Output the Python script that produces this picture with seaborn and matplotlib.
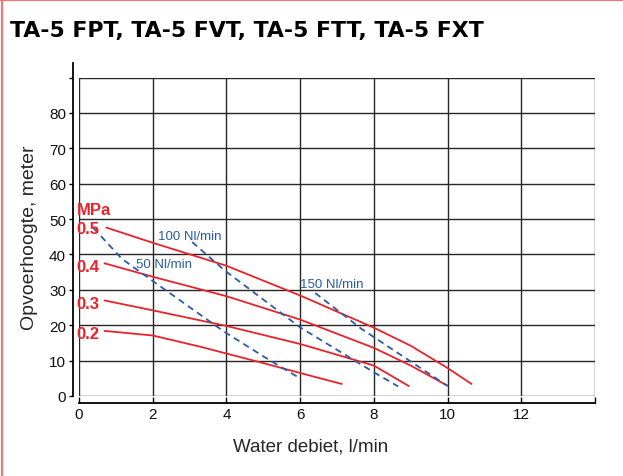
import matplotlib
matplotlib.use("Agg")
import matplotlib.pyplot as plt
from matplotlib.lines import Line2D
import seaborn as sns
import pandas as pd

# ---- data ----
p05_x = [0.74, 2.0, 4.0, 6.0, 8.0, 9.0, 10.0, 10.65]
p05_y = [47.6, 43.3, 36.8, 28.4, 19.3, 14.2, 7.9, 3.4]
p04_x = [0.69, 2.0, 4.0, 6.0, 8.0, 9.0, 10.0]
p04_y = [37.5, 33.7, 28.2, 21.6, 13.6, 8.6, 2.9]
p03_x = [0.69, 2.0, 4.0, 6.0, 8.0, 8.95]
p03_y = [27.0, 24.2, 19.8, 14.7, 8.6, 2.8]
p02_x = [0.69, 2.0, 3.3, 4.0, 5.0, 6.0, 7.13]
p02_y = [18.4, 17.1, 13.9, 12.0, 9.3, 6.5, 3.4]

a50_x = [0.39, 1.16, 2.0, 3.95, 5.11, 5.95]
a50_y = [47.5, 38.8, 32.5, 18.1, 10.5, 5.3]
a100_x = [3.07, 3.95, 6.0, 8.0, 8.66]
a100_y = [43.5, 35.5, 19.4, 6.7, 2.7]
a150_x = [6.41, 7.66, 9.99]
a150_y = [29.1, 19.0, 2.9]

pressure_labels = ["0.5", "0.4", "0.3", "0.2"]
pressure_label_y = [46.1, 35.2, 24.9, 16.5]
air_labels = ["50 Nl/min", "100 Nl/min", "150 Nl/min"]
air_label_x = [1.54, 2.14, 5.99]
air_label_y = [36.4, 44.4, 30.7]

x_ticks = [0, 2, 4, 6, 8, 10, 12, 14]
x_ticklabels = ["0", "2", "4", "6", "8", "10", "12", ""]
y_ticks = [0, 10, 20, 30, 40, 50, 60, 70, 80, 90]
y_ticklabels = ["0", "10", "20", "30", "40", "50", "60", "70", "80", ""]

title = "TA-5 FPT, TA-5 FVT, TA-5 FTT, TA-5 FXT"
xlabel = "Water debiet, l/min"
ylabel = "Opvoerhoogte, meter"

RED = "#e8232b"
BLUE = "#2a5ba6"

sns.set_theme(style="white")
plt.rcParams["font.family"] = ["Liberation Sans", "DejaVu Sans"]

fig = plt.figure(figsize=(6.23, 4.77), dpi=100)
ax = fig.add_axes([79 / 623, 80 / 477, 516 / 623, 318.5 / 477])

for xs, ys in [(p05_x, p05_y), (p04_x, p04_y), (p03_x, p03_y), (p02_x, p02_y)]:
    df = pd.DataFrame({"x": xs, "y": ys})
    sns.lineplot(data=df, x="x", y="y", sort=False, color=RED, lw=1.3, ax=ax)

for xs, ys in [(a50_x, a50_y), (a100_x, a100_y), (a150_x, a150_y)]:
    df = pd.DataFrame({"x": xs, "y": ys})
    sns.lineplot(data=df, x="x", y="y", sort=False, color=BLUE, lw=1.3,
                 linestyle=(0, (3.6, 2.6)), ax=ax)

ax.set_xlim(0, 14)
ax.set_ylim(0, 90)
ax.set_xticks(x_ticks)
ax.set_xticklabels(x_ticklabels, fontsize=11)
ax.set_yticks(y_ticks)
ax.set_yticklabels(y_ticklabels, fontsize=11)
ax.set_xlabel(xlabel, fontsize=13.5, labelpad=9)
ax.xaxis.set_label_coords((311 - 79) / 516, -0.13)
ax.set_ylabel(ylabel, fontsize=14, labelpad=8)

ax.grid(True, color="#262626", lw=1.0)
ax.xaxis.get_gridlines()[0].set_visible(False)
ax.yaxis.get_gridlines()[0].set_visible(False)
ax.set_axisbelow(True)

for s in ["top", "right"]:
    ax.spines[s].set_visible(False)
ax.spines["left"].set_position(("outward", 4.3))
ax.spines["bottom"].set_position(("outward", 4.8))
for s in ["left", "bottom"]:
    ax.spines[s].set_color("black")
    ax.spines[s].set_linewidth(1.3)
ax.spines["left"].set_bounds(0, 94)

ax.tick_params(axis="y", direction="out", length=3, width=1, color="black",
               left=True, pad=2, labelcolor="#111111")
ax.tick_params(axis="x", direction="in", length=4, width=1, color="black",
               bottom=True, pad=3, labelcolor="#111111")

# labels on the chart
ax.text(-0.07, 51.3, "MPa", color=RED, fontsize=12, fontweight="bold",
        ha="left", va="baseline")
for lab, yy in zip(pressure_labels, pressure_label_y):
    ax.text(-0.07, yy, lab, color=RED, fontsize=12, fontweight="bold",
            ha="left", va="baseline")
for lab, xx, yy in zip(air_labels, air_label_x, air_label_y):
    ax.text(xx, yy, lab, color=BLUE, fontsize=9.5, ha="left", va="baseline")

fig.text(10 / 623, 1 - 31 / 477, title, fontsize=15.8, fontweight="bold",
         ha="left", va="center", color="black", family=["DejaVu Sans"])

# light red frame lines (left and top)
fig.add_artist(Line2D([2.5 / 623, 2.5 / 623], [0, 1], transform=fig.transFigure,
                      color="#f07878", lw=1.6))
fig.add_artist(Line2D([0, 1], [1 - 1 / 477, 1 - 1 / 477], transform=fig.transFigure,
                      color="#f07878", lw=1.6))

fig.savefig("out.png", dpi=100)
